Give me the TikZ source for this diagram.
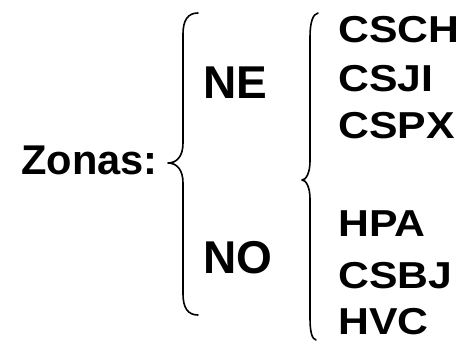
\documentclass[tikz,border=0pt]{standalone}
\usepackage{fontspec}
\setmainfont{Liberation Sans}
\newfontfamily\widefont{Liberation Sans}[FakeStretch=1.14]
\begin{document}
\begin{tikzpicture}[x=1pt,y=-1pt,
  brace/.style={draw=black,line width=1.6pt,line cap=round,line join=round},
  title/.style={font=\fontsize{41.6}{41.6}\selectfont\bfseries,inner sep=0pt,anchor=base west},
  zone/.style={font=\fontsize{46}{46}\selectfont\bfseries,inner sep=0pt,anchor=base west},
  site/.style={font=\widefont\fontsize{37.5}{37.5}\selectfont\bfseries,inner sep=0pt,anchor=base west}]
\useasboundingbox[fill=white] (0,0) rectangle (460,343);

% heading
\node[title] (zonas) at (21,174) {Zonas:};

% zones
\node[zone] (ne) at (203.5,98) {NE};
\node[zone] (no) at (203.5,273) {NO};

% sites
\node[site] (csch) at (338,42) {CSCH};
\node[site] (csji) at (338,91) {CSJI};
\node[site] (cspx) at (338,138) {CSPX};
\node[site] (hpa)  at (338,236) {HPA};
\node[site] (csbj) at (338,288) {CSBJ};
\node[site] (hvc)  at (338,334) {HVC};

% brace grouping the two zones
\draw[brace] (198,13) .. controls (188,13) and (183,20) .. (183,34)
  -- (183,143) .. controls (183,156) and (177,163) .. (168,163)
  .. controls (177,163) and (183,170) .. (183,183)
  -- (183,294) .. controls (183,308) and (188,315) .. (198,315);

% brace grouping the sites
\draw[brace] (318,13) .. controls (313,14) and (310,22) .. (310,37)
  -- (310,161) .. controls (310,173) and (306,180) .. (302,180)
  .. controls (306,180) and (310,187) .. (310,199)
  -- (310,318) .. controls (310,332) and (312,339) .. (316,340);
\end{tikzpicture}
\end{document}
